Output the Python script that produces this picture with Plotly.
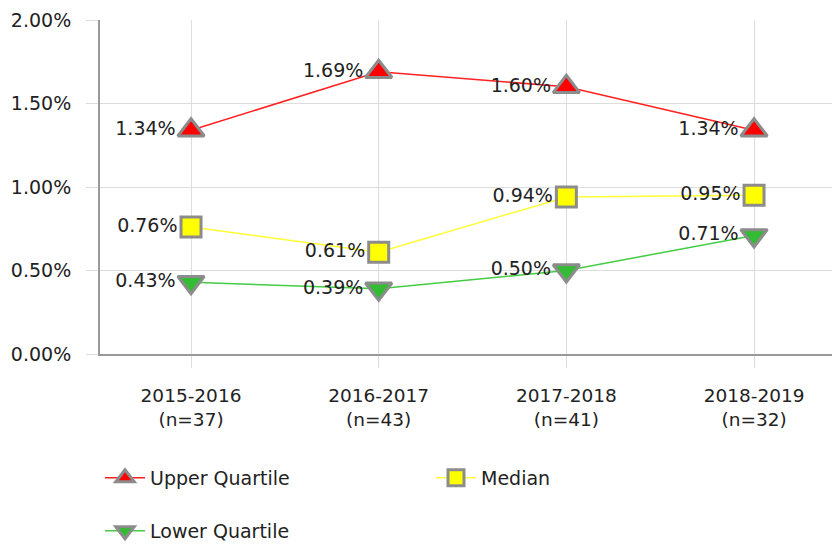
import plotly.graph_objects as go

# ── Data ─────────────────────────────────────────────────────────────────────

periods = ["2015-2016", "2016-2017", "2017-2018", "2018-2019"]
counts  = [37, 43, 41, 32]
upper   = [1.34, 1.69, 1.60, 1.34]
median  = [0.76, 0.61, 0.94, 0.95]
lower   = [0.43, 0.39, 0.50, 0.71]

FONT = "DejaVu Sans, Verdana, sans-serif"
TEXT = "#222222"
GRID = "#dddddd"
AXIS = "#999999"
EDGE = "#8c8c8c"

x_labels = [f"{p}<br>(n={n})" for p, n in zip(periods, counts)]

SERIES = [
    ("Upper Quartile", upper, "#ff0000", "#ff2020", "triangle-up", 23, "legend"),
    ("Median", median, "#ffff00", "#ffff33", "square", 20, "legend"),
    ("Lower Quartile", lower, "#33bb33", "#44cc44", "triangle-down", 23, "legend2"),
]

fig = go.Figure()
for name, values, fill, line_color, symbol, size, legend in SERIES:
    fig.add_trace(go.Scatter(
        x=x_labels,
        y=values,
        name=name,
        mode="lines+markers+text",
        line=dict(color=line_color, width=1.5),
        marker=dict(symbol=symbol, size=size, color=fill,
                    line=dict(color=EDGE, width=3)),
        text=[f"{v:.2f}%" for v in values],
        textposition="middle left",
        textfont=dict(family=FONT, size=19, color=TEXT),
        legend=legend,
        cliponaxis=False,
    ))

# page body adds an 8px offset, so the figure is sized/margined to compensate
fig.update_layout(
    width=832,
    height=536,
    paper_bgcolor="white",
    plot_bgcolor="white",
    font=dict(family=FONT, size=19, color=TEXT),
    margin=dict(l=92, r=0, t=12, b=190, autoexpand=False),
    xaxis=dict(
        range=[-0.485, 3.458],
        showgrid=True, gridcolor=GRID, gridwidth=1,
        ticks="outside", ticklen=12, tickcolor=GRID,
        showline=True, linecolor=AXIS, linewidth=2,
        tickfont=dict(size=18.5),
        ticklabelstandoff=12,
        fixedrange=True,
    ),
    yaxis=dict(
        range=[0, 2],
        dtick=0.5,
        tickformat=".2f",
        ticksuffix="%",
        showgrid=True, gridcolor=GRID, gridwidth=1,
        ticks="outside", ticklen=12, tickcolor=GRID,
        showline=True, linecolor=AXIS, linewidth=2,
        zeroline=False,
        tickfont=dict(size=19),
        ticklabelstandoff=11,
        ticklabeloverflow="allow",
        fixedrange=True,
    ),
    legend=dict(
        orientation="h",
        x=0, xanchor="left",
        y=-0.371, yanchor="middle",
        entrywidth=276,
        itemwidth=40,
        font=dict(size=19),
    ),
    legend2=dict(
        orientation="h",
        x=0, xanchor="left",
        y=-0.53, yanchor="middle",
        itemwidth=40,
        font=dict(size=19),
    ),
)

fig.write_html("out.html")
